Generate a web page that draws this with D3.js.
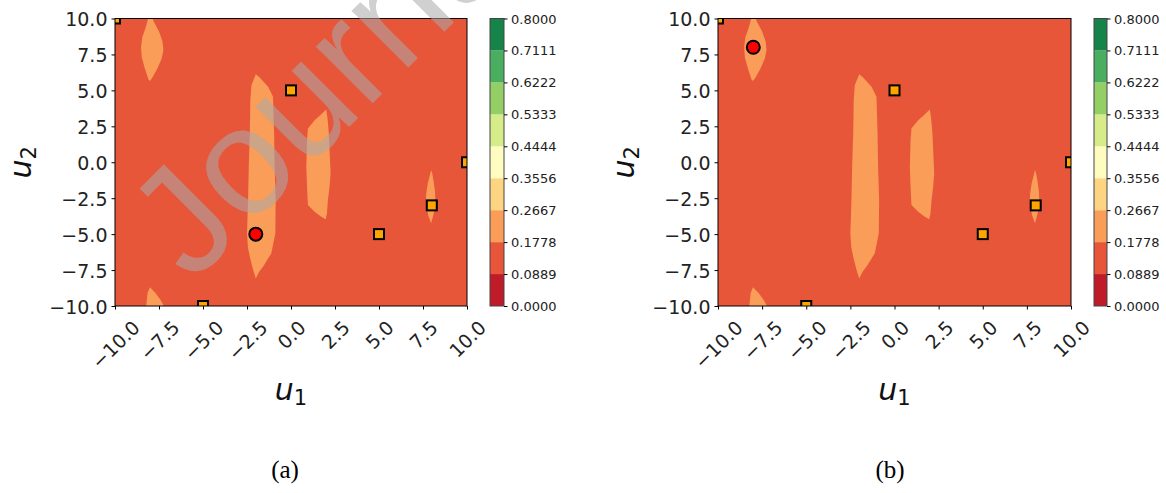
<!DOCTYPE html>
<html><head><meta charset="utf-8">
<script src="https://cdn.jsdelivr.net/npm/d3@7"></script>
<style>body{margin:0;background:#fff}svg{display:block}</style>
</head><body><svg id="c" width="1166" height="493"></svg>
<script>
// ---------- data ----------
const levels = [0, 0.0889, 0.1778, 0.2667, 0.3556, 0.4444, 0.5333, 0.6222, 0.7111, 0.8];
const bandColors = ["#c01b28","#e8563a","#f99d59","#fdd582","#fefcbf","#d5ec88","#94cf66","#4aae60","#168349"];
const axisTicks = [-10, -7.5, -5, -2.5, 0, 2.5, 5, 7.5, 10];
const baseBand = 1;   // band of most of the surface (0.0889-0.1778)
const blobBand = 2;   // band of the lighter islands (0.1778-0.2667)
// island outlines [u1, u2]
const blobTopLeft = [[-8.05,10.3],[-8.25,9.4],[-8.45,8.7],[-8.52,8.0],[-8.48,7.3],[-8.3,6.5],[-8.1,5.75],[-8.02,5.65],[-7.9,5.85],[-7.6,6.5],[-7.35,7.2],[-7.25,7.8],[-7.3,8.4],[-7.5,9.1],[-7.8,9.8],[-7.95,10.3]];
const blobCentre = [[-2.0,6.13],[-2.25,5.36],[-2.31,4.32],[-2.34,2.0],[-2.40,-0.31],[-2.44,-2.63],[-2.5,-4.95],[-2.45,-5.9],[-2.34,-6.57],[-2.15,-7.5],[-2.0,-8.08],[-1.8,-7.6],[-1.59,-7.27],[-1.12,-6.34],[-0.89,-4.95],[-0.87,-2.63],[-0.93,-0.31],[-0.96,2.0],[-1.02,4.55],[-1.30,5.25],[-1.78,5.9]];
const blobRight = [[2.0,3.67],[1.6,3.2],[1.34,2.93],[0.96,2.35],[0.91,1.54],[0.87,-0.31],[0.91,-1.7],[0.96,-2.97],[1.34,-3.44],[1.72,-3.79],[1.97,-3.97],[2.04,-3.56],[2.10,-2.63],[2.19,-1.70],[2.25,-0.78],[2.19,0.85],[2.15,2.0],[2.08,3.0]];
const blobSmall = [[7.96,-0.54],[7.85,-1.1],[7.77,-1.47],[7.68,-2.2],[7.67,-2.63],[7.72,-3.2],[7.8,-3.7],[7.96,-4.25],[8.08,-3.7],[8.15,-3.33],[8.2,-2.6],[8.18,-2.0],[8.1,-1.3],[8.03,-0.8]];
const blobBottomLeft = [[-8.02,-8.7],[-8.15,-9.1],[-8.25,-10.3],[-7.1,-10.3],[-7.4,-9.6],[-7.7,-9.1]];
const blobs = [blobTopLeft, blobCentre, blobRight, blobSmall, blobBottomLeft];
// sampled points (squares)
const sampleU1 = [-10, 0, 10, 8, 5, -5];
const sampleU2 = [10, 5, 0, -3, -5, -10];
// current point (red circle) for panel (a) and (b)
const bestU1 = [-2, -8];
const bestU2 = [-5, 8];
const captions = ["(a)", "(b)"];
const watermark = "Journal Pre-proof";

// ---------- layout ----------
const svg = d3.select("#c");
const panels = [
  {id:"a", left:115, right:467, cbL:490, cbR:504, capX:285, watermark:true},
  {id:"b", left:718, right:1071, cbL:1094, cbR:1107, capX:890, watermark:false}
];
const TOP = 18.5, BOTTOM = 306;
const tickFont = "DejaVu Sans";

panels.forEach((p, i) => {
  const x = d3.scaleLinear().domain([-10, 10]).range([p.left, p.right]);
  const y = d3.scaleLinear().domain([-10, 10]).range([BOTTOM, TOP]);
  const clipId = "clip" + p.id;
  svg.append("clipPath").attr("id", clipId).append("rect")
    .attr("x", x(-10)).attr("y", y(10)).attr("width", x(10) - x(-10)).attr("height", y(-10) - y(10));
  const plot = svg.append("g").attr("clip-path", `url(#${clipId})`);
  plot.append("rect").attr("x", x(-10)).attr("y", y(10))
    .attr("width", x(10) - x(-10)).attr("height", y(-10) - y(10))
    .attr("fill", bandColors[baseBand]);
  const line = d3.line().x(d => x(d[0])).y(d => y(d[1])).curve(d3.curveLinearClosed);
  plot.selectAll("path.blob").data(blobs).join("path").attr("class", "blob")
    .attr("d", line).attr("fill", bandColors[blobBand]);
  plot.selectAll("rect.s").data(sampleU1.map((u, k) => [u, sampleU2[k]])).join("rect").attr("class", "s")
    .attr("x", d => x(d[0]) - 5).attr("y", d => y(d[1]) - 5).attr("width", 10).attr("height", 10)
    .attr("fill", "#ffa500").attr("stroke", "#000").attr("stroke-width", 2);
  plot.append("circle").attr("cx", x(bestU1[i])).attr("cy", y(bestU2[i])).attr("r", 6.5)
    .attr("fill", "#ff0000").attr("stroke", "#000").attr("stroke-width", 2);

  // axes
  const ax = svg.append("g").attr("transform", `translate(0,${BOTTOM})`)
    .call(d3.axisBottom(x).tickValues(axisTicks).tickFormat(d3.format(".1f")).tickSize(3.5).tickSizeOuter(0));
  const ay = svg.append("g").attr("transform", `translate(${p.left},0)`)
    .call(d3.axisLeft(y).tickValues(axisTicks).tickFormat(d3.format(".1f")).tickSize(3.5).tickSizeOuter(0).tickPadding(4));
  [ax, ay].forEach(a => {
    a.select(".domain").remove();
    a.selectAll("line").attr("stroke", "#000");
    a.selectAll("text").attr("font-family", tickFont).attr("font-size", 19).attr("fill", "#222");
  });
  ay.selectAll("text").attr("dy", null).attr("dominant-baseline", "central");
  ax.selectAll(".tick text").each(function() {
    const t = d3.select(this);
    const w = this.getComputedTextLength();
    const h = 14;
    const half = (w + h) * Math.SQRT1_2 / 2;
    t.attr("y", null).attr("dy", null).attr("text-anchor", "middle").attr("dominant-baseline", "central")
     .attr("transform", `translate(0,${13 + half}) rotate(-45)`);
  });
  svg.append("rect").attr("x", x(-10)).attr("y", y(10)).attr("width", x(10) - x(-10)).attr("height", y(-10) - y(10))
    .attr("fill", "none").attr("stroke", "#000").attr("stroke-width", 1);

  // axis labels
  const xl = svg.append("text").attr("x", (p.left + p.right) / 2).attr("y", 400).attr("text-anchor", "middle")
    .attr("font-family", "DejaVu Sans").attr("font-size", 30).attr("fill", "#111");
  xl.append("tspan").attr("font-style", "italic").text("u");
  xl.append("tspan").attr("font-size", 21).attr("dy", 5).text("1");
  const yl = svg.append("text").attr("transform", `translate(${p.left - 84},${(TOP + BOTTOM) / 2}) rotate(-90)`)
    .attr("text-anchor", "middle").attr("font-family", "DejaVu Sans").attr("font-size", 30).attr("fill", "#111");
  yl.append("tspan").attr("font-style", "italic").text("u");
  yl.append("tspan").attr("font-size", 21).attr("dy", 5).text("2");

  // colorbar
  const c = d3.scaleLinear().domain([0, 0.8]).range([BOTTOM, TOP]);
  svg.append("g").selectAll("rect").data(d3.range(levels.length - 1)).join("rect")
    .attr("x", p.cbL).attr("width", p.cbR - p.cbL)
    .attr("y", k => c(levels[k + 1])).attr("height", k => c(levels[k]) - c(levels[k + 1]))
    .attr("fill", k => bandColors[k]);
  svg.append("rect").attr("x", p.cbL).attr("y", c(0.8)).attr("width", p.cbR - p.cbL).attr("height", c(0) - c(0.8))
    .attr("fill", "none").attr("stroke", "#444").attr("stroke-width", 1);
  const ac = svg.append("g").attr("transform", `translate(${p.cbR},0)`)
    .call(d3.axisRight(c).tickValues(levels).tickFormat(d3.format(".4f")).tickSize(3.5).tickSizeOuter(0).tickPadding(3.5));
  ac.select(".domain").remove();
  ac.selectAll("line").attr("stroke", "#000");
  ac.selectAll("text").attr("font-family", tickFont).attr("font-size", 13).attr("fill", "#222")
    .attr("dy", null).attr("dominant-baseline", "central");

  // caption
  svg.append("text").attr("x", p.capX).attr("y", 478).attr("text-anchor", "middle")
    .attr("font-family", "Liberation Serif").attr("font-size", 25).attr("fill", "#000").text(captions[i]);

  if (p.watermark) {
    svg.append("text").attr("transform", "translate(192,284) rotate(-45)")
      .attr("font-family", "Liberation Sans").attr("font-size", 152)
      .attr("fill", "#aaaaaa").attr("fill-opacity", 0.55).text(watermark);
  }
});
</script></body></html>
